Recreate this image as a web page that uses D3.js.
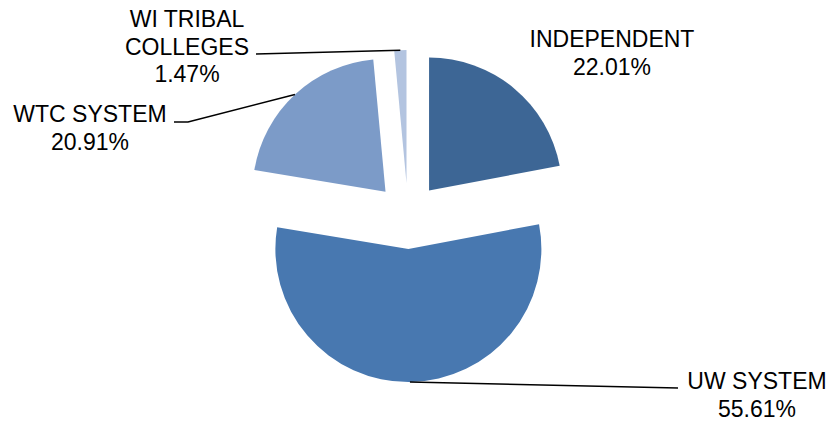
<!DOCTYPE html>
<html>
<head>
<meta charset="utf-8">
<script src="https://cdn.jsdelivr.net/npm/d3@7"></script>
<style>
  body { margin: 0; background: #fff; }
  svg { display: block; }
  .slice-label { font-family: "Liberation Sans", Arial, sans-serif; font-size: 23px; fill: #000; }
</style>
</head>
<body>
<svg id="chart"></svg>
<script>
"use strict";

// data
const categories = ["INDEPENDENT", "UW SYSTEM", "WTC SYSTEM", "WI TRIBAL COLLEGES"];
const shares = [22.01, 55.61, 20.91, 1.47];
const sliceColors = ["#3D6695", "#4878B0", "#7C9BC8", "#B3C4E0"];
const labelLines = [["INDEPENDENT"], ["UW SYSTEM"], ["WTC SYSTEM"], ["WI TRIBAL", "COLLEGES"]];

const width = 834;
const height = 424;
const cx = 408, cy = 216;
const radius = 133;
const explode = 33;
const LINE_H = 27.5;

// label anchors (text centre x, first baseline y) and leader line start points
const labelLayout = [
    { x: 612, y: 47, leader: null },
    { x: 757, y: 389, leader: [[678, 388]] },
    { x: 90, y: 122, leader: [[174, 122], [188, 122]] },
    { x: 187, y: 27, leader: [[256, 54]] }
];

const svg = d3.select("#chart")
    .attr("width", width)
    .attr("height", height);

const pie = d3.pie().sort(null).value(d => d);
const arcs = pie(shares);
const arc = d3.arc().innerRadius(0).outerRadius(radius);

const mid = d => (d.startAngle + d.endAngle) / 2;
const offset = d => [Math.sin(mid(d)) * explode, -Math.cos(mid(d)) * explode];

const g = svg.append("g").attr("transform", `translate(${cx},${cy})`);

g.selectAll("path.slice")
    .data(arcs)
    .join("path")
    .attr("class", "slice")
    .attr("transform", d => `translate(${offset(d)})`)
    .attr("d", arc)
    .attr("fill", (d, i) => sliceColors[i]);

// leader lines, ending on the outer edge at the slice's mid angle
const line = d3.line();
arcs.forEach((d, i) => {
    const lay = labelLayout[i];
    if (!lay.leader) return;
    const [ox, oy] = offset(d);
    const end = [cx + ox + Math.sin(mid(d)) * radius, cy + oy - Math.cos(mid(d)) * radius];
    svg.append("path")
        .attr("d", line(lay.leader.concat([end])))
        .attr("fill", "none")
        .attr("stroke", "#000")
        .attr("stroke-width", 1.6);
});

// labels
const labels = svg.selectAll("text.slice-label")
    .data(arcs)
    .join("text")
    .attr("class", "slice-label")
    .attr("text-anchor", "middle");

labels.each(function(d, i) {
    const lay = labelLayout[i];
    const lines = labelLines[i].concat([shares[i].toFixed(2) + "%"]);
    d3.select(this).selectAll("tspan")
        .data(lines)
        .join("tspan")
        .attr("x", lay.x)
        .attr("y", (t, j) => lay.y + j * LINE_H)
        .text(t => t);
});
</script>
</body>
</html>
